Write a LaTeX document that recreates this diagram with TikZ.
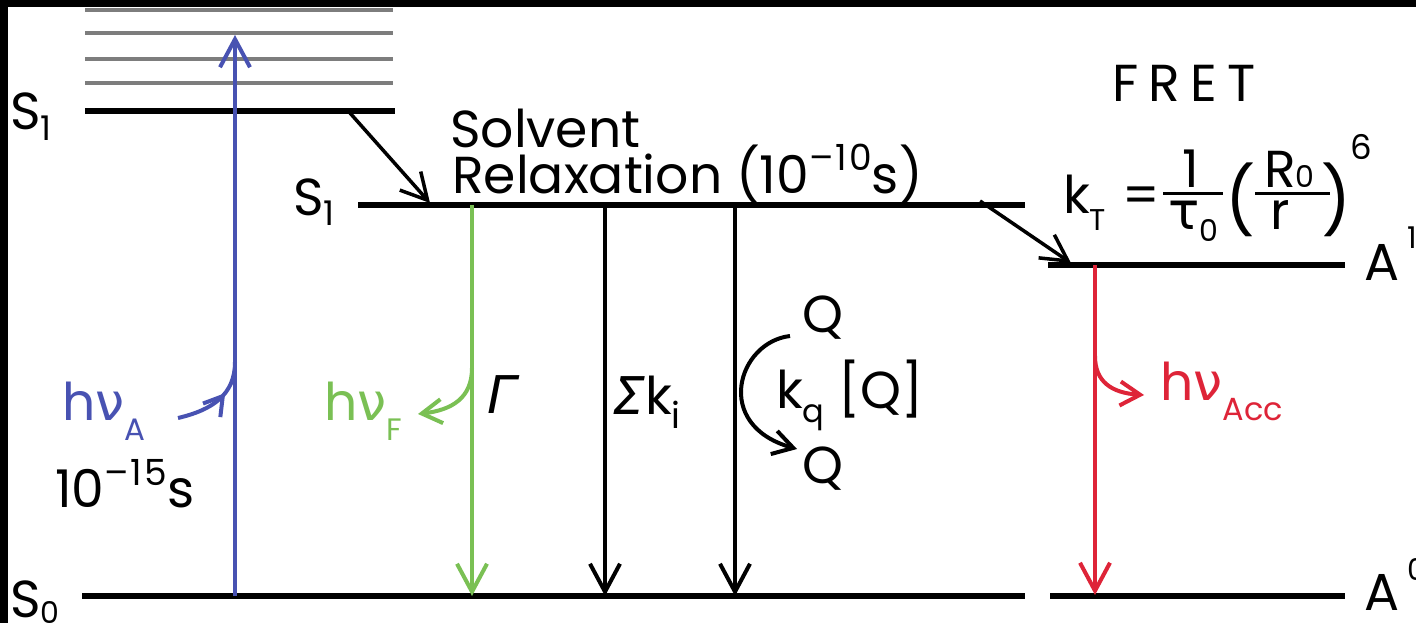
\documentclass[tikz,border=0pt]{standalone}
\usepackage{fontspec}
\setmainfont{Poppins}
\newfontfamily\gk{DejaVu Sans}
\usetikzlibrary{arrows.meta,decorations.markings}
\definecolor{absblue}{RGB}{72,82,178}
\definecolor{fluogreen}{RGB}{122,192,84}
\definecolor{accred}{RGB}{222,36,56}
\definecolor{vibgrey}{RGB}{125,125,125}
\newcommand\dn[3]{\raisebox{-#1pt}{\fontsize{#2}{#2}\selectfont #3}}
\newcommand\up[3]{\raisebox{#1pt}{\fontsize{#2}{#2}\selectfont #3}}
\newcommand\expo[1]{\up{22}{36}{\addfontfeature{LetterSpace=6}#1}}
\begin{document}
\begin{tikzpicture}[x=1pt,y=-1pt,
  lvl/.style={line width=6pt},
  vib/.style={line width=4pt, draw=vibgrey},
  trans/.style={line width=4pt, -{Straight Barb[length=28pt,width=30pt]}},
  diag/.style={line width=3.5pt, -{Straight Barb[length=26pt,width=28pt]}},
  branch/.style={line width=4pt, -{Straight Barb[length=20pt,width=24pt]}},
  lbl/.style={inner sep=0pt, anchor=base west, font=\fontsize{52}{60}\selectfont},
]
\useasboundingbox (0,0) rectangle (1416,623);
\fill[black] (0,0) rectangle (1416,623);
\fill[white] (8,7) rectangle (1416,623);

% ---- level coordinates ----
\coordinate (g1l) at (85,10);  \coordinate (g1r) at (393,10);
\coordinate (g2l) at (85,33);  \coordinate (g2r) at (393,33);
\coordinate (g3l) at (85,59);  \coordinate (g3r) at (393,59);
\coordinate (g4l) at (85,83);  \coordinate (g4r) at (393,83);
\coordinate (s1l) at (85,111); \coordinate (s1r) at (395,111);
\coordinate (r1l) at (358,205); \coordinate (r1r) at (1025,205);
\coordinate (a1l) at (1048,265); \coordinate (a1r) at (1345,265);
\coordinate (s0l) at (82,596); \coordinate (s0r) at (1025,596);
\coordinate (a0l) at (1050,596); \coordinate (a0r) at (1345,596);

\draw[vib] (g1l) -- (g1r);
\draw[vib] (g2l) -- (g2r);
\draw[vib] (g3l) -- (g3r);
\draw[vib] (g4l) -- (g4r);
\draw[lvl] (s1l) -- (s1r);
\draw[lvl] (r1l) -- (r1r);
\draw[lvl] (a1l) -- (a1r);
\draw[lvl] (s0l) -- (s0r);
\draw[lvl] (a0l) -- (a0r);

% ---- level labels ----
\node[lbl] (lS1a) at (10,130) {S\dn{10}{34}{1}};
\node[lbl] (lS1b) at (293,215) {S\dn{10}{34}{1}};
\node[lbl] (lS0) at (10,617) {S\dn{6}{30}{0}};
\node[lbl] (lA1) at (1364,280) {A\,\up{32}{30}{1}};
\node[lbl] (lA0) at (1364,610) {A\,\up{30}{30}{0}};

% ---- absorption ----
\coordinate (absfoot) at (235,596);
\coordinate (abstip) at (235,35);
\draw[trans, absblue] (absfoot) -- (abstip);
\coordinate (hvAs) at (178,418);
\coordinate (hvAj) at (235,362);
\draw[line width=4pt, absblue, postaction={decorate},
  decoration={markings, mark=at position 0.62 with {\arrow{Straight Barb[length=18pt,width=22pt]}}}]
  (hvAs) .. controls (212,410) and (235,395) .. (hvAj);
\node[lbl, text=absblue] (hvA) at (62,420) {h{\gk ν}\dn{20}{31}{A}};
\node[lbl] (t15) at (55,507) {10\expo{–15}s};

% ---- solvent relaxation ----
\coordinate (sr1) at (350,113);
\coordinate (sr2) at (430,203);
\draw[diag] (sr1) -- (sr2);
\node[lbl] (solv) at (450,148) {Solvent};
\node[lbl] (relax) at (452,193) {Relaxation (10\expo{–10}s)};

% ---- fluorescence ----
\coordinate (ftop) at (472,205);
\coordinate (fbot) at (472,596);
\draw[trans, fluogreen] (ftop) -- (fbot);
\coordinate (fbr) at (472,368);
\coordinate (fbt) at (418,414);
\draw[branch, fluogreen] (fbr) .. controls (472,398) and (452,410) .. (fbt);
\node[lbl, text=fluogreen] (hvF) at (324,420) {h{\gk ν}\dn{20}{31}{F}};
\node[lbl] (gam) at (487,413) {{\gk\itshape Γ}};

% ---- nonradiative ----
\coordinate (ktop) at (605,205);
\coordinate (kbot) at (605,596);
\draw[trans] (ktop) -- (kbot);
\node[lbl] (ski) at (612,414) {{\gk\itshape Σ}k\dn{14}{36}{i}};

% ---- quenching ----
\coordinate (qtop) at (735,205);
\coordinate (qbot) at (735,596);
\draw[trans] (qtop) -- (qbot);
\node[lbl] (Q1) at (802,332) {Q};
\node[lbl] (Q2) at (802,483) {Q};
\coordinate (qa1) at (790,336);
\coordinate (qa2) at (797,449);
\draw[branch] (qa1) .. controls (738,342) and (712,425) .. (qa2);
\node[lbl] (kq) at (776,408) {k\dn{14}{32}{q} [Q]};

% ---- FRET ----
\node[lbl] (fret) at (1112,102) {\addfontfeature{LetterSpace=20}FRET};
\coordinate (ft1) at (980,201);
\coordinate (ft2) at (1071,263);
\draw[diag] (ft1) -- (ft2);
\node[lbl] (kT) at (1063,213) {k\dn{17}{30}{T}};
\node[lbl] (eq) at (1122,213) {=};
\node[lbl, anchor=base] (one) at (1191,187) {1};
\coordinate (b1l) at (1163,193); \coordinate (b1r) at (1223,193);
\draw[line width=3pt] (b1l) -- (b1r);
\node[lbl] (tau) at (1168,229) {{\gk τ}\dn{12}{30}{0}};
\node[lbl, anchor=center, font=\fontsize{66}{70}\selectfont] (lp) at (1240,200) {(};
\node[lbl] (R0) at (1264,187) {R\dn{0}{30}{0}};
\coordinate (b2l) at (1255,193); \coordinate (b2r) at (1330,193);
\draw[line width=3pt] (b2l) -- (b2r);
\node[lbl] (rr) at (1270,229) {r};
\node[lbl, anchor=center, font=\fontsize{66}{70}\selectfont] (rp) at (1336,200) {)};
\node[lbl, font=\fontsize{34}{34}\selectfont] (six) at (1350,160) {6};

% ---- acceptor emission ----
\coordinate (atop) at (1095,265);
\coordinate (abot) at (1095,595);
\draw[trans, accred] (atop) -- (abot);
\coordinate (abr) at (1095,356);
\coordinate (abt) at (1144,395);
\draw[branch, accred] (abr) .. controls (1095,382) and (1112,393) .. (abt);
\node[lbl, text=accred] (hvAcc) at (1160,400) {h{\gk ν}\dn{20}{32}{Acc}};
\end{tikzpicture}
\end{document}
